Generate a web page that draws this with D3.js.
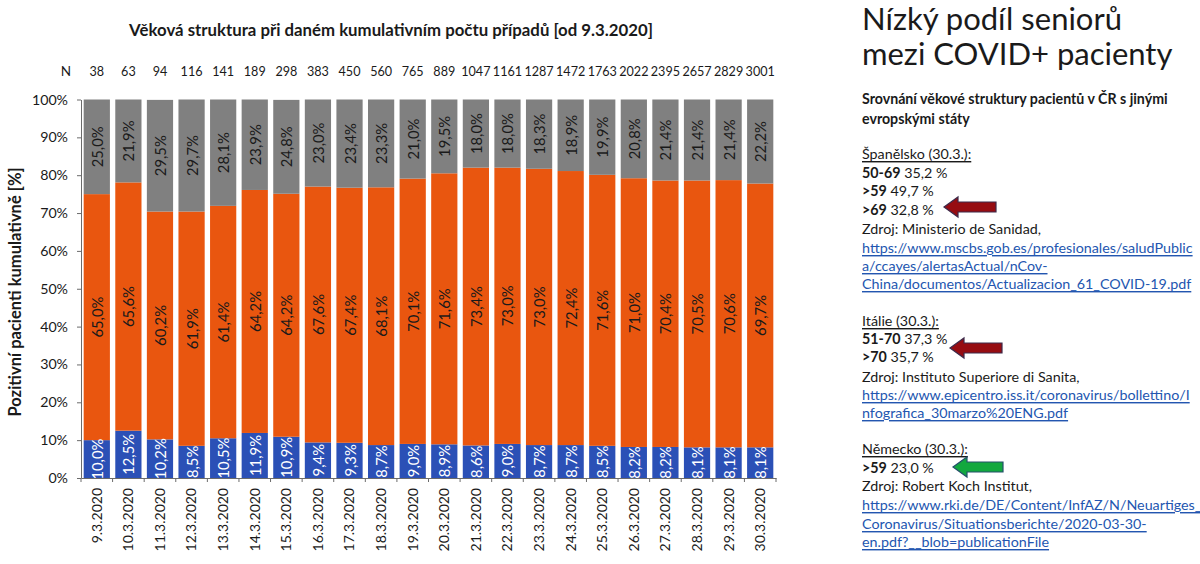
<!DOCTYPE html>
<html>
<head>
<meta charset="utf-8">
<script src="https://cdn.jsdelivr.net/npm/d3@7"></script>
<style>
  body { margin: 0; background: #fff; }
  svg { display: block; }
  text { font-family: Lato, "Open Sans", sans-serif; }
</style>
</head>
<body>
<svg id="chart" width="1200" height="564"></svg>
<script>
const dates = ["9.3.2020", "10.3.2020", "11.3.2020", "12.3.2020", "13.3.2020", "14.3.2020",
  "15.3.2020", "16.3.2020", "17.3.2020", "18.3.2020", "19.3.2020", "20.3.2020", "21.3.2020",
  "22.3.2020", "23.3.2020", "24.3.2020", "25.3.2020", "26.3.2020", "27.3.2020", "28.3.2020",
  "29.3.2020", "30.3.2020"];
const counts = [38, 63, 94, 116, 141, 189, 298, 383, 450, 560, 765, 889, 1047, 1161, 1287,
  1472, 1763, 2022, 2395, 2657, 2829, 3001];
const young = [10.0, 12.5, 10.2, 8.5, 10.5, 11.9, 10.9, 9.4, 9.3, 8.7, 9.0, 8.9, 8.6, 9.0,
  8.7, 8.7, 8.5, 8.2, 8.2, 8.1, 8.1, 8.1];
const middle = [65.0, 65.6, 60.2, 61.9, 61.4, 64.2, 64.2, 67.6, 67.4, 68.1, 70.1, 71.6, 73.4,
  73.0, 73.0, 72.4, 71.6, 71.0, 70.4, 70.5, 70.6, 69.7];
const senior = [25.0, 21.9, 29.5, 29.7, 28.1, 23.9, 24.8, 23.0, 23.4, 23.3, 21.0, 19.5, 18.0,
  18.0, 18.3, 18.9, 19.9, 20.8, 21.4, 21.4, 21.4, 22.2];
const yTicks = [0, 10, 20, 30, 40, 50, 60, 70, 80, 90, 100];

const keys = ["young", "middle", "senior"];
const colors = { young: "#2b50b6", middle: "#e9560f", senior: "#808080" };
const labelColors = { young: "#ffffff", middle: "#1a1a1a", senior: "#1a1a1a" };

const svg = d3.select("#chart");

// scales

const x = d3.scaleBand()
    .domain(dates)
    .range([81, 776])
    .paddingInner(0.17)
    .paddingOuter(0.085);

const y = d3.scaleLinear()
    .domain([0, 100])
    .range([478, 99.5]);

const rows = dates.map((d, i) => ({ date: d, young: young[i], middle: middle[i], senior: senior[i] }));
const series = d3.stack().keys(keys)(rows);

const fmt = v => d3.format(".1f")(v).replace(".", ",") + "%";
const yTop = v => y(Math.min(v, 100));

// title

svg.append("text")
    .attr("x", 391)
    .attr("y", 29)
    .attr("text-anchor", "middle")
    .attr("dominant-baseline", "central")
    .attr("font-weight", "bold")
    .attr("font-size", "16.8px")
    .attr("fill", "#1a1a1a")
    .text("Věková struktura při daném kumulativním počtu případů [od 9.3.2020]");

// N row

svg.append("text")
    .attr("x", 66)
    .attr("y", 71)
    .attr("text-anchor", "middle")
    .attr("dominant-baseline", "central")
    .attr("font-size", "13.5px")
    .attr("fill", "#1a1a1a")
    .text("N");

svg.append("g")
  .selectAll("text")
  .data(counts)
  .join("text")
    .attr("x", (d, i) => x(dates[i]) + x.bandwidth() / 2)
    .attr("y", 71)
    .attr("text-anchor", "middle")
    .attr("dominant-baseline", "central")
    .attr("font-size", "12.6px")
    .attr("fill", "#1a1a1a")
    .text(d => d);

// bars

const layer = svg.append("g")
  .selectAll("g")
  .data(series)
  .join("g")
    .attr("fill", s => colors[s.key]);

layer.selectAll("rect")
  .data(s => s)
  .join("rect")
    .attr("x", d => x(d.data.date))
    .attr("width", x.bandwidth())
    .attr("y", d => yTop(d[1]))
    .attr("height", d => y(d[0]) - yTop(d[1]));

// segment labels

svg.append("g")
  .selectAll("g")
  .data(series)
  .join("g")
    .attr("fill", s => labelColors[s.key])
  .selectAll("text")
  .data(s => s.map(d => ({ key: s.key, d })))
  .join("text")
    .attr("transform", e => {
      const cx = x(e.d.data.date) + x.bandwidth() / 2;
      const cy = (y(e.d[0]) + yTop(e.d[1])) / 2;
      return `translate(${cx},${cy}) rotate(-90)`;
    })
    .attr("text-anchor", "middle")
    .attr("dominant-baseline", "central")
    .attr("font-size", "14.8px")
    .text(e => fmt(e.d.data[e.key]));

// axes

const yAxis = d3.axisLeft(y)
    .tickValues(yTicks)
    .tickFormat(d => d + "%")
    .tickSize(4)
    .tickSizeOuter(0)
    .tickPadding(9);

svg.append("g")
    .attr("transform", "translate(81,0)")
    .call(yAxis)
    .call(g => g.selectAll("path, line").attr("stroke", "#6b6b6b"))
    .call(g => g.selectAll("text")
        .attr("font-family", "Lato, sans-serif")
        .attr("font-size", "14.2px")
        .attr("fill", "#1a1a1a"));

const xAxis = d3.axisBottom(x)
    .tickSize(0)
    .tickSizeOuter(0);

const gx = svg.append("g")
    .attr("transform", "translate(0,478)")
    .call(xAxis)
    .call(g => g.select(".domain").attr("stroke", "#6b6b6b"));

gx.selectAll(".tick text")
    .attr("transform", "rotate(-90)")
    .attr("text-anchor", "end")
    .attr("x", -10)
    .attr("y", 0)
    .attr("dy", "0.35em")
    .attr("font-family", "Lato, sans-serif")
    .attr("font-size", "14px")
    .attr("fill", "#1a1a1a");

const edge = i => x(dates[0]) - (x.step() - x.bandwidth()) / 2 + i * x.step();

gx.selectAll(".sep")
  .data(d3.range(dates.length + 1))
  .join("line")
    .attr("class", "sep")
    .attr("x1", edge)
    .attr("x2", edge)
    .attr("y1", 0)
    .attr("y2", 4)
    .attr("stroke", "#6b6b6b");

svg.append("text")
    .attr("transform", "translate(15,292) rotate(-90)")
    .attr("text-anchor", "middle")
    .attr("dominant-baseline", "central")
    .attr("font-weight", "bold")
    .attr("font-size", "16.5px")
    .attr("fill", "#1a1a1a")
    .text("Pozitivní pacienti kumulativně [%]");

// right-hand panel

const px = 862;
const panel = svg.append("g").attr("fill", "#1a1a1a");

panel.selectAll(".head")
  .data(["Nízký podíl seniorů", "mezi COVID+ pacienty"])
  .join("text")
    .attr("class", "head")
    .attr("x", px)
    .attr("y", (d, i) => 30 + i * 35)
    .attr("font-size", "31px")
    .text(d => d);

panel.selectAll(".sub")
  .data(["Srovnání věkové struktury pacientů v ČR s jinými", "evropskými státy"])
  .join("text")
    .attr("class", "sub")
    .attr("x", px)
    .attr("y", (d, i) => 98 + i * 20)
    .attr("dominant-baseline", "central")
    .attr("font-weight", "bold")
    .attr("font-size", "14.2px")
    .text(d => d);

// each line: [y, kind, text, boldPrefix]
const lines = [
  [153, "head", "Španělsko (30.3.):"],
  [172, "val", " 35,2 %", "50-69"],
  [190, "val", " 49,7 %", ">59"],
  [209, "val", " 32,8 %", ">69"],
  [228, "txt", "Zdroj: Ministerio de Sanidad,"],
  [247, "link", "https://www.mscbs.gob.es/profesionales/saludPublic"],
  [265, "link", "a/ccayes/alertasActual/nCov-"],
  [283, "link", "China/documentos/Actualizacion_61_COVID-19.pdf"],
  [320, "head", "Itálie (30.3.):"],
  [338, "val", " 37,3 %", "51-70"],
  [356, "val", " 35,7 %", ">70"],
  [376, "txt", "Zdroj: Instituto Superiore di Sanita,"],
  [394, "link", "https://www.epicentro.iss.it/coronavirus/bollettino/I"],
  [412, "link", "nfografica_30marzo%20ENG.pdf"],
  [448, "head", "Německo (30.3.):"],
  [467, "val", " 23,0 %", ">59"],
  [485, "txt", "Zdroj: Robert Koch Institut,"],
  [504, "link", "https://www.rki.de/DE/Content/InfAZ/N/Neuartiges_"],
  [523, "link", "Coronavirus/Situationsberichte/2020-03-30-"],
  [541, "link", "en.pdf?__blob=publicationFile"]
];

lines.forEach(([ly, kind, t, b]) => {
  const el = panel.append("text")
      .attr("x", px)
      .attr("y", ly)
      .attr("dominant-baseline", "central")
      .attr("font-size", "14.3px");
  if (b) el.append("tspan").attr("font-weight", "bold").text(b);
  el.append("tspan").text(t);
  if (kind === "head") el.attr("text-decoration", "underline");
  if (kind === "link") el.attr("fill", "#2356b0").attr("text-decoration", "underline");
});

// arrows pointing left: tip at (ax, ay)
function arrow(ax, ay, len, fill, stroke) {
  const hl = 14, hh = 10, sh = 5;
  const pts = [[0, 0], [hl, -hh], [hl, -sh], [len, -sh], [len, sh], [hl, sh], [hl, hh]];
  svg.append("path")
      .attr("d", d3.line()(pts.map(([dx, dy]) => [ax + dx, ay + dy])) + "Z")
      .attr("fill", fill)
      .attr("stroke", stroke)
      .attr("stroke-width", 1.2);
}
arrow(944, 207, 52, "#960c12", "#3d2a4a");
arrow(950, 348, 52, "#960c12", "#3d2a4a");
arrow(953, 467, 50, "#12a83f", "#24506a");
</script>
</body>
</html>
